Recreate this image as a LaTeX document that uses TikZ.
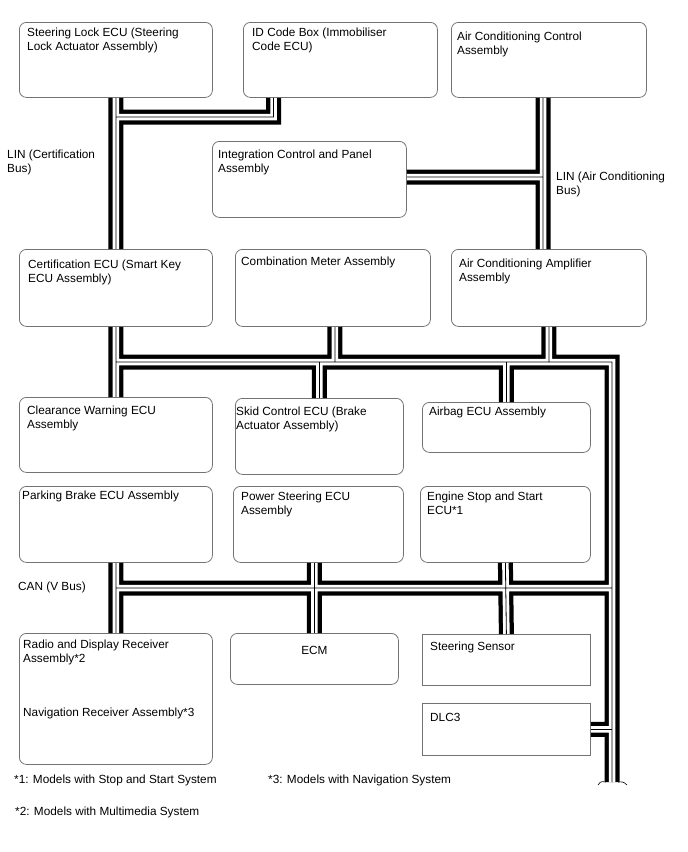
\documentclass[tikz,border=0pt]{standalone}
\usepackage{fontspec}
\setmainfont{Liberation Sans}
\begin{document}
\begin{tikzpicture}[
    x=1pt, y=-1pt,
    font=\fontsize{11.8}{14}\selectfont,
    ecu/.style={draw=black!55, rounded corners=7pt, line width=0.8pt, anchor=north west, inner sep=0pt},
    sensorbox/.style={ecu, sharp corners},
    txt/.style={anchor=north west, inner sep=0pt, align=left},
    busout/.style={line width=15pt, draw=black, line join=miter},
    busin/.style={line width=6.5pt, draw=white, line join=miter},
    buscore/.style={line width=0.8pt, draw=black}
]
\useasboundingbox (0,0) rectangle (688,852);

% ECU boxes
\node[ecu, minimum width=193, minimum height=75] (slock) at (19,22) {};
\node[ecu, minimum width=194, minimum height=75] (idcode) at (243,22) {};
\node[ecu, minimum width=195, minimum height=75] (acctl) at (451,22) {};
\node[ecu, minimum width=194, minimum height=76] (integ) at (212,141) {};
\node[ecu, minimum width=193, minimum height=77] (cert) at (19,249) {};
\node[ecu, minimum width=195, minimum height=77] (combo) at (235,249) {};
\node[ecu, minimum width=195, minimum height=77] (acamp) at (451,249) {};
\node[ecu, minimum width=193, minimum height=75] (clear) at (19,397) {};
\node[ecu, minimum width=168, minimum height=76] (skid) at (235,398) {};
\node[ecu, minimum width=168, minimum height=50] (airbag) at (422,402) {};
\node[ecu, minimum width=193, minimum height=76] (park) at (19,486) {};
\node[ecu, minimum width=170, minimum height=76] (power) at (233,486) {};
\node[ecu, minimum width=170, minimum height=76] (stop) at (420,486) {};
\node[ecu, minimum width=193, minimum height=131] (radio) at (19,633) {};
\node[ecu, minimum width=168, minimum height=51] (ecm) at (230,633) {};
\node[sensorbox, minimum width=168, minimum height=51] (sensor) at (422,634) {};
\node[sensorbox, minimum width=168, minimum height=52] (dlc) at (422,703) {};

% box texts
\node[txt] (slockt) at ([shift={(8,6)}]slock.north west) {Steering Lock ECU (Steering\\Lock Actuator Assembly)};
\node[txt] (idcodet) at ([shift={(9,6)}]idcode.north west) {ID Code Box (Immobiliser\\Code ECU)};
\node[txt] (acctlt) at ([shift={(6,10)}]acctl.north west) {Air Conditioning Control\\Assembly};
\node[txt] (integt) at ([shift={(6,9)}]integ.north west) {Integration Control and Panel\\Assembly};
\node[txt] (certt) at ([shift={(9,11)}]cert.north west) {Certification ECU (Smart Key\\ECU Assembly)};
\node[txt] (combot) at ([shift={(6,8)}]combo.north west) {Combination Meter Assembly};
\node[txt] (acampt) at ([shift={(8,10)}]acamp.north west) {Air Conditioning Amplifier\\Assembly};
\node[txt] (cleart) at ([shift={(8,9)}]clear.north west) {Clearance Warning ECU\\Assembly};
\node[txt] (skidt) at ([shift={(1,9)}]skid.north west) {Skid Control ECU (Brake\\Actuator Assembly)};
\node[txt] (airbagt) at ([shift={(7,5)}]airbag.north west) {Airbag ECU Assembly};
\node[txt] (parkt) at ([shift={(3,5)}]park.north west) {Parking Brake ECU Assembly};
\node[txt] (powert) at ([shift={(8,6)}]power.north west) {Power Steering ECU\\Assembly};
\node[txt] (stopt) at ([shift={(7,6)}]stop.north west) {Engine Stop and Start\\ECU*1};
\node[txt] (radiot) at ([shift={(4,7)}]radio.north west) {Radio and Display Receiver\\Assembly*2\\[40pt]Navigation Receiver Assembly*3};
\node[txt, anchor=north] (ecmt) at ([yshift=-13]ecm.north) {ECM};
\node[txt] (sensort) at ([shift={(8,8)}]sensor.north west) {Steering Sensor};
\node[txt] (dlct) at ([shift={(8,10)}]dlc.north west) {DLC3};

% bus labels and notes
\node[txt] (linc-l) at (7,150) {LIN (Certification\\Bus)};
\node[txt] (lina-l) at (556,172) {LIN (Air Conditioning\\Bus)};
\node[txt] (can-l) at (18,582) {CAN (V Bus)};
\node[txt] (note1) at (14,775) {*1: Models with Stop and Start System};
\node[txt] (note2) at (15,807) {*2: Models with Multimedia System};
\node[txt] (note3) at (268,775) {*3: Models with Navigation System};

% bus junctions
\coordinate (linc) at (115.5,117);
\coordinate (lina) at (543,177);
\coordinate (canl) at (115.5,362);
\coordinate (canr) at (612,362);
\coordinate (canm) at (612,588);
\coordinate (canb) at (612,782);

% buses, drawn in three layers so the junctions stay open
\foreach \lay in {busout,busin,buscore}{
  \draw[\lay] (slock.south) -- (cert.north)
    ([xshift=30.5]idcode.south west) |- (linc)
    (acctl.south -| lina) -- (acamp.north -| lina)
    (integ.east |- lina) -- (lina)
    (cert.south) -- (clear.north)
    (canl) -- (canr) -- (canb)
    ([xshift=2]combo.south) -- ([xshift=2]combo.south |- canl)
    (skid.north |- canl) -- (skid.north)
    (acamp.south) -- (acamp.south |- canl)
    (airbag.north |- canl) -- (airbag.north)
    (park.south) -- (radio.north)
    (park.south |- canm) -- (canm)
    (ecm.north |- power.south) -- (ecm.north)
    (stop.south) -- (sensor.north)
    (dlc.east) -- (dlc.east -| canm);
}

% break mark at the open end
\draw[line width=0.6pt] ([shift={(-14,3)}]canb) .. controls +(3,-5) and +(-3,0) .. ([shift={(-6,0)}]canb)
  ([shift={(6,0)}]canb) .. controls +(4,0) and +(-4,-4) .. ([shift={(15,3)}]canb);

\end{tikzpicture}
\end{document}
